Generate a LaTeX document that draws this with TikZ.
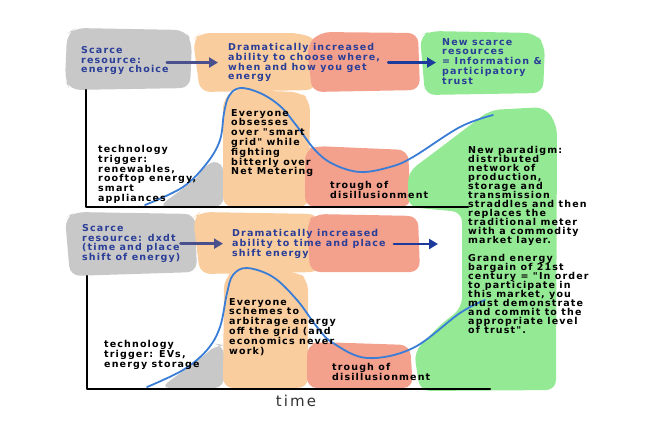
\documentclass[tikz,border=0pt]{standalone}
\usepackage{fontspec}
\usetikzlibrary{arrows.meta}
\newfontfamily\notefont[LetterSpace=12]{DejaVu Sans Bold}
\newfontfamily\axisfont[LetterSpace=14]{DejaVu Sans}
\newcommand\notesize{\fontsize{9.5}{9.8}\selectfont\lineskiplimit-5pt\relax}
\newcommand\tightsize{\fontsize{9.5}{9}\selectfont\lineskiplimit-5pt\relax}
\definecolor{blobgray}{RGB}{200,200,200}
\definecolor{blobpeach}{RGB}{249,205,158}
\definecolor{blobsalmon}{RGB}{243,160,141}
\definecolor{blobgreen}{RGB}{148,234,148}
\definecolor{hypeblue}{RGB}{58,125,214}
\definecolor{inkblue}{RGB}{42,62,152}
\definecolor{slateblue}{RGB}{74,80,140}
\definecolor{deepblue}{RGB}{28,58,156}

\begin{document}
\begin{tikzpicture}[x=1pt, y=-1pt, line cap=round, line join=round,
    blob/.style={rounded corners=10pt},
    axis/.style={line width=2.2pt, black},
    hype/.style={line width=1.8pt, hypeblue},
    note/.style={font=\notefont\notesize, align=left, inner sep=0pt,
      anchor=north west},
    bluenote/.style={note, text=inkblue},
    flow/.style={line width=2.6pt, -{Triangle[length=9pt, width=10pt]}}]
  \useasboundingbox (0,0) rectangle (668,424);
  % --- blobs, top row -------------------------------------------------
  \fill[blob, blobgray] (65,80) -- (67,34) -- (75,28) -- (185,30) -- (192,42)
      -- (190,88) -- (70,90) -- cycle;
  \fill[blob, blobpeach] (193,40) -- (200,33) -- (300,33) -- (318,40)
      -- (316,90) -- (200,92) -- cycle;
  \fill[blob, blobsalmon] (307,45) -- (320,32) -- (418,33) -- (420,90)
      -- (312,92) -- cycle;
  \fill[blob, blobgreen] (420,36) -- (430,31) -- (535,33) -- (545,45)
      -- (543,93) -- (425,95) -- cycle;
  % --- blobs, bottom row ----------------------------------------------
  \fill[blob, blobgray] (65,218) -- (75,212) -- (195,214) -- (197,272)
      -- (70,276) -- cycle;
  \fill[blob, blobpeach] (193,218) -- (200,212) -- (318,214) -- (320,272)
      -- (200,274) -- cycle;
  \fill[blob, blobsalmon] (307,222) -- (315,214) -- (418,216) -- (420,272)
      -- (310,272) -- cycle;
  % --- blobs under the curves -----------------------------------------
  \fill[blob, blobgray] (158,207) -- (200,176) -- (205,163) -- (223,161)
      -- (224,207) -- cycle;
  \fill[blob, blobpeach] (223,207) -- (223,98) -- (235,90) -- (300,92)
      -- (310,100) -- (309,207) -- cycle;
  \fill[blob, blobsalmon] (305,207) -- (305,150) -- (315,146) -- (408,150)
      -- (411,207) -- cycle;
  \fill[blob, blobgray] (160,388) -- (205,355) -- (217,344) -- (224,345)
      -- (224,388) -- cycle;
  \fill[blob, blobpeach] (223,388) -- (224,278) -- (235,270) -- (298,272)
      -- (308,280) -- (308,388) -- cycle;
  \fill[blob, blobsalmon] (307,388) -- (307,345) -- (318,342) -- (410,345)
      -- (413,388) -- cycle;
  \fill[blob, blobgreen] (408,207) -- (408,172) -- (440,148) -- (490,110)
      -- (545,107) -- (557,125) -- (556,390) -- (420,391) -- (414,352)
      -- (440,325) -- (462,308) -- (462,212) -- cycle;
  % --- hype curves ----------------------------------------------------
  \draw[hype] plot[smooth, tension=0.6] coordinates {(145,205) (183,187)
      (207,163) (220,140) (224,113) (229,96) (240,88) (260,93) (280,106)
      (296,125) (315,150) (333,164) (360,172) (390,167) (413,157)
      (460,127) (493,115)};
  \draw[hype] plot[smooth, tension=0.6] coordinates {(147,387) (183,370)
      (207,350) (220,327) (227,293) (233,275) (247,268) (273,277)
      (297,300) (317,327) (333,343) (367,358) (413,348) (460,313)
      (485,300)};
  % --- axes -----------------------------------------------------------
  \coordinate (topY) at (86,90);
  \coordinate (topO) at (86,207);
  \coordinate (topX) at (468,207);
  \coordinate (botY) at (87,276);
  \coordinate (botO) at (87,389);
  \coordinate (botX) at (490,389);
  \draw[axis] (topY) -- (topO) -- (topX);
  \draw[axis] (botY) -- (botO) -- (botX);
  \node[font=\axisfont\fontsize{15}{15}\selectfont, text=black!80,
      inner sep=0pt] (timeLbl) at (296,401) {time};
  % --- top row labels -------------------------------------------------
  \node[bluenote] (scarceA) at (81,46) {Scarce\\resource:\\energy choice};
  \node[bluenote] (dramA) at (228,43) {Dramatically increased\\ability to
      choose where,\\when and how you get\\energy};
  \node[bluenote] (newA) at (442,38) {New scarce\\resources\\= Information
      \&\\participatory\\trust};
  \draw[flow, slateblue, shorten <=-2pt, shorten >=10pt]
      (scarceA.east |- dramA.west) -- (dramA.west);
  \draw[flow, deepblue, shorten <=8pt, shorten >=6pt] (dramA.east)
      -- (newA.west |- dramA.east);
  % --- top chart labels -----------------------------------------------
  \node[note] (trigA) at (98,145) {technology\\trigger:\\renewables,\\rooftop
      energy,\\smart\\appliances};
  \node[note] (peakA) at (231,109) {Everyone\\obsesses\\over "smart\\grid"
      while\\fighting\\bitterly over\\Net Metering};
  \node[note] (troughA) at (330,181) {trough of\\disillusionment};
  \node[note, font=\notefont\tightsize]
      (paradigm) at (468,146) {New paradigm:\\distributed\\network
      of\\production,\\storage and\\transmission\\straddles and
      then\\replaces the\\traditional meter\\with a commodity\\market
      layer.\\[9pt]Grand energy\\bargain of 21st\\century = "In
      order\\to participate in\\this market, you\\must
      demonstrate\\and commit to the\\appropriate level\\of trust".};
  % --- bottom row labels ----------------------------------------------
  \node[bluenote] (scarceB) at (82,224) {Scarce\\resource: dxdt\\(time and
      place\\shift of energy)};
  \node[bluenote] (dramB) at (232,229) {Dramatically increased\\ability to
      time and place\\shift energy};
  \coordinate (tipB) at (438,244);
  \draw[flow, slateblue, shorten >=9pt] (scarceB.east |- dramB.west)
      -- (dramB.west);
  \draw[flow, deepblue, shorten <=8pt] (dramB.east |- tipB) -- (tipB);
  % --- bottom chart labels --------------------------------------------
  \node[note] (trigB) at (104,340) {technology\\trigger: EVs,\\energy
      storage};
  \node[note] (peakB) at (229,298) {Everyone\\schemes to\\arbitrage
      energy\\off the grid (and\\economics never\\work)};
  \node[note] (troughB) at (332,363) {trough of\\disillusionment};
\end{tikzpicture}
\end{document}
